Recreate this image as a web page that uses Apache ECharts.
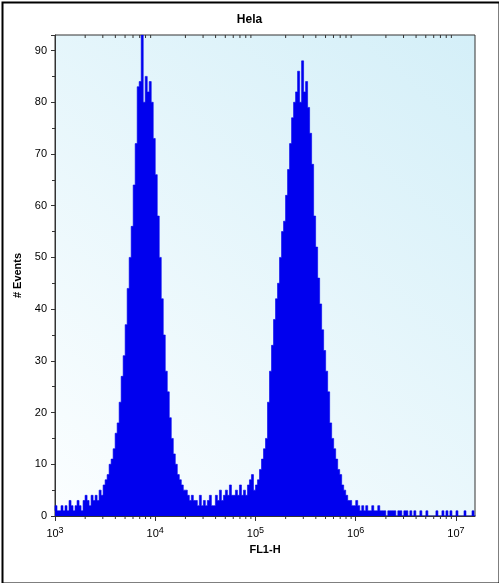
<!DOCTYPE html>
<html>
<head>
<meta charset="UTF-8">
<title>Hela</title>
<script src="https://cdn.jsdelivr.net/npm/echarts@6/dist/echarts.min.js"></script>
<style>
  html, body { margin: 0; padding: 0; background: #fff; }
  #main { width: 499px; height: 583px; }
</style>
</head>
<body>
<div id="main"></div>
<script>
// histogram bins, log10(FL1-H) from 3.00 in steps of 0.02
var binStart = 3.0;
var binStep = 0.02;
var counts = [
  1,2,1,1,2,1,2,1,3,2,
  1,2,3,2,1,3,4,3,2,4,
  3,4,3,5,4,6,7,8,10,11,
  13,16,18,22,27,31,37,44,50,56,
  64,72,83,84,93,80,85,82,84,80,
  73,66,58,50,42,35,28,24,19,15,
  12,10,8,7,6,5,5,4,3,4,
  3,3,2,4,2,3,2,3,4,2,
  2,4,3,5,3,4,5,4,6,4,
  4,5,4,6,4,5,4,6,7,8,
  5,6,7,9,11,13,15,22,28,33,
  38,42,45,50,55,57,62,67,72,77,
  80,82,86,80,88,82,84,79,74,68,
  58,52,46,41,36,32,28,24,18,15,
  13,11,9,8,6,5,4,3,3,2,
  2,3,2,1,2,1,2,1,1,2,
  1,1,2,1,1,1,0,1,1,1,
  1,0,1,1,0,1,1,0,1,0,
  1,0,0,1,0,0,1,0,0,0,
  0,1,0,0,1,0,1,0,1,0,
  0,1,0,0,0,1,0,0,0,1
];
var decades = [3, 4, 5, 6, 7];
var yTicks = [0, 10, 20, 30, 40, 50, 60, 70, 80, 90];

var histData = counts.map(function (v, i) { return [binStart + i * binStep, v]; });
histData.push([binStart + counts.length * binStep, 0]);

// log minor tick positions (2..9 x 10^d)
var minorPos = [];
decades.forEach(function (d) {
  for (var k = 2; k <= 9; k++) {
    var p = d + Math.log10(k);
    if (p <= 7.19) minorPos.push([p, 0]);
  }
});

var chart = echarts.init(document.getElementById('main'));
var font = 'Liberation Sans, Arial, sans-serif';

chart.setOption({
  animation: false,
  title: {
    text: 'Hela', left: 'center', top: 9,
    textStyle: { fontFamily: font, fontSize: 12, fontWeight: 'bold', color: '#000' }
  },
  graphic: [{
    type: 'rect', left: 0, top: 0, silent: true,
    shape: { width: 497, height: 581 },
    style: { fill: 'none', stroke: '#000', lineWidth: 2 }
  }],
  grid: {
    left: 55, right: 24, top: 35, bottom: 67, show: true,
    borderColor: '#333', borderWidth: 1,
    backgroundColor: new echarts.graphic.LinearGradient(0, 1, 1, 0, [
      { offset: 0, color: '#fbfeff' },
      { offset: 1, color: '#d4eff8' }
    ])
  },
  xAxis: {
    type: 'value', min: 3, max: 7.19, interval: 1,
    name: 'FL1-H', nameLocation: 'middle', nameGap: 26,
    nameTextStyle: { fontFamily: font, fontSize: 11, fontWeight: 'bold', color: '#000' },
    axisLine: { lineStyle: { color: '#333' } },
    axisTick: { length: 5, lineStyle: { color: '#333' } },
    splitLine: { show: false },
    axisLabel: {
      showMaxLabel: false, margin: 10,
      formatter: function (v) { return '{b|10}{s|' + v + '}'; },
      rich: {
        b: { fontFamily: font, fontSize: 11, color: '#000' },
        s: { fontFamily: font, fontSize: 9, color: '#000', verticalAlign: 'top', padding: [0, 0, 7, 0] }
      }
    }
  },
  yAxis: {
    type: 'value', min: 0, max: 93, interval: 10,
    name: '# Events', nameLocation: 'middle', nameGap: 30,
    nameTextStyle: { fontFamily: font, fontSize: 11, fontWeight: 'bold', color: '#000' },
    axisLine: { show: true, lineStyle: { color: '#333' } },
    axisTick: { show: true, length: 4, lineStyle: { color: '#333' } },
    minorTick: { show: true, splitNumber: 2, length: 3, lineStyle: { color: '#333' } },
    splitLine: { show: false },
    axisLabel: {
      showMaxLabel: false, margin: 8,
      formatter: function (v) { return yTicks.indexOf(v) >= 0 ? String(v) : ''; },
      fontFamily: font, fontSize: 11, color: '#000'
    }
  },
  series: [{
    type: 'line', step: 'start', symbol: 'none', data: histData,
    lineStyle: { color: '#0000ee', width: 0.6 },
    areaStyle: { color: '#0000ee', opacity: 1 }
  }, {
    type: 'custom', data: minorPos, silent: true, clip: false, z: 5,
    renderItem: function (params, api) {
      var p = api.coord([api.value(0), 0]);
      var top = params.coordSys.y;
      return {
        type: 'group', children: [
          { type: 'line', shape: { x1: p[0], y1: p[1], x2: p[0], y2: p[1] + 3 }, style: { stroke: '#333', lineWidth: 1 } },
          { type: 'line', shape: { x1: p[0], y1: top, x2: p[0], y2: top + 3 }, style: { stroke: '#333', lineWidth: 1 } }
        ]
      };
    }
  }]
});
</script>
</body>
</html>
